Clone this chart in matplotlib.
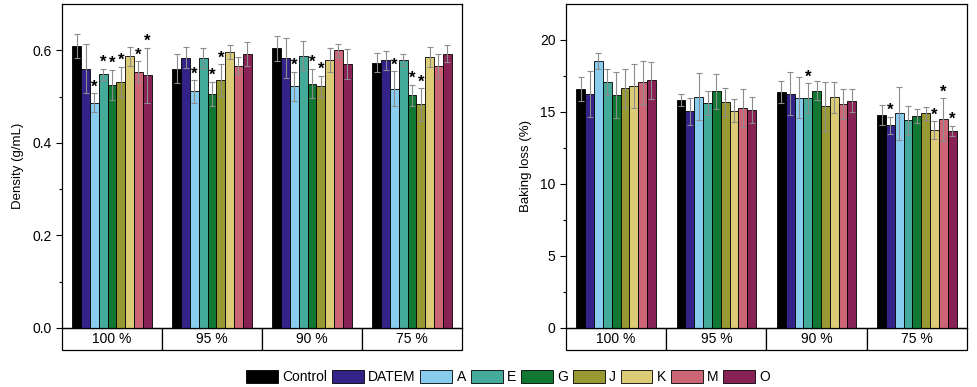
import numpy as np
import matplotlib
matplotlib.use("Agg")
from matplotlib import pyplot as plt

groups = ["100 %", "95 %", "90 %", "75 %"]
samples = ["Control", "DATEM", "A", "E", "G", "J", "K", "M", "O"]
colors = ["#000000", "#332288", "#88CCEE", "#44AA99", "#117733",
          "#999933", "#DDCC77", "#CC6677", "#882255"]

# density (g/mL), one row per sample, columns = groups
density = [
    [0.609, 0.560, 0.604, 0.573],
    [0.560, 0.584, 0.584, 0.578],
    [0.487, 0.511, 0.522, 0.517],
    [0.548, 0.583, 0.588, 0.579],
    [0.525, 0.506, 0.528, 0.503],
    [0.531, 0.536, 0.522, 0.483],
    [0.587, 0.596, 0.578, 0.585],
    [0.554, 0.567, 0.600, 0.566],
    [0.546, 0.591, 0.570, 0.593],
]
density_err = [
    [0.026, 0.031, 0.027, 0.021],
    [0.053, 0.022, 0.043, 0.020],
    [0.020, 0.024, 0.032, 0.038],
    [0.012, 0.022, 0.031, 0.014],
    [0.033, 0.026, 0.032, 0.023],
    [0.033, 0.034, 0.023, 0.035],
    [0.021, 0.015, 0.026, 0.021],
    [0.022, 0.018, 0.014, 0.025],
    [0.059, 0.026, 0.032, 0.019],
]
density_sig = [
    [0, 0, 0, 0],
    [0, 0, 0, 0],
    [1, 1, 1, 1],
    [1, 0, 0, 0],
    [1, 1, 1, 1],
    [1, 1, 1, 1],
    [0, 0, 0, 0],
    [1, 0, 0, 0],
    [1, 0, 0, 0],
]

# baking loss (%)
loss = [
    [16.58, 15.83, 16.39, 14.79],
    [16.23, 15.05, 16.27, 14.07],
    [18.54, 16.06, 15.99, 14.91],
    [17.08, 15.63, 15.95, 14.42],
    [16.18, 16.44, 16.48, 14.72],
    [16.65, 15.69, 15.39, 14.91],
    [16.81, 15.09, 16.02, 13.75],
    [17.06, 15.28, 15.53, 14.49],
    [17.20, 15.16, 15.78, 13.68],
]
loss_err = [
    [0.83, 0.40, 0.74, 0.72],
    [1.60, 0.94, 1.51, 0.60],
    [0.54, 1.63, 1.44, 1.85],
    [0.93, 0.83, 1.04, 1.00],
    [1.58, 1.20, 0.67, 0.51],
    [1.36, 0.98, 1.71, 0.46],
    [1.50, 0.79, 1.08, 0.60],
    [1.48, 1.34, 1.04, 1.48],
    [1.30, 0.90, 0.79, 0.35],
]
loss_sig = [
    [0, 0, 0, 0],
    [0, 0, 0, 1],
    [0, 0, 0, 0],
    [0, 0, 1, 0],
    [0, 0, 0, 0],
    [0, 0, 0, 0],
    [0, 0, 0, 1],
    [0, 0, 0, 1],
    [0, 0, 0, 1],
]

plt.rcParams["font.family"] = ["Liberation Sans", "DejaVu Sans"]
plt.rcParams["font.size"] = 9

fig = plt.figure(figsize=(9.77, 3.87), dpi=100)
ax1 = fig.add_axes([0.0635, 0.1525, 0.4094, 0.8372])
ax2 = fig.add_axes([0.5793, 0.1525, 0.4104, 0.8372])

x = np.arange(len(groups))
w = 0.088


def draw(ax, vals, errs, sig, ylim, ticks, minor, label):
    for i, s in enumerate(samples):
        pos = x + (i - 4) * w
        ax.bar(pos, vals[i], w, yerr=errs[i], color=colors[i],
               edgecolor="black", linewidth=0.6, label=s,
               error_kw=dict(ecolor="0.55", elinewidth=0.8,
                             capsize=2.2, capthick=0.8))
        for j in range(len(groups)):
            if sig[i][j]:
                ax.annotate("*", (pos[j], vals[i][j] + errs[i][j]),
                            xytext=(0, 4.5), textcoords="offset points",
                            ha="center", va="center", fontsize=12,
                            fontweight="bold")
    ax.set_xlim(-0.5, 3.5)
    ax.set_ylim(*ylim)
    ax.set_yticks(ticks)
    ax.set_yticks(minor, minor=True)
    ax.set_xticks([])
    ax.set_ylabel(label, fontsize=9.5, labelpad=6)
    ax.tick_params(axis="y", direction="out", length=4, width=0.8,
                   labelsize=10)
    ax.tick_params(axis="y", which="minor", length=2.5, width=0.8)
    for sp in ax.spines.values():
        sp.set_linewidth(0.9)
    tb = ax.table(cellText=[groups], cellLoc="center",
                  bbox=[0, -0.068, 1, 0.068])
    tb.auto_set_font_size(False)
    tb.set_fontsize(10)
    for c in tb.get_celld().values():
        c.set_linewidth(0.9)


draw(ax1, density, density_err, density_sig, (0, 0.7),
     [0.0, 0.2, 0.4, 0.6], [0.1, 0.3, 0.5],
     "Density (g/mL)")
ax1.set_yticklabels(["0.0", "0.2", "0.4", "0.6"])
draw(ax2, loss, loss_err, loss_sig, (0, 22.5),
     [0, 5, 10, 15, 20], [2.5, 7.5, 12.5, 17.5],
     "Baking loss (%)")

h, l = ax1.get_legend_handles_labels()
fig.legend(h, l, loc="lower center", bbox_to_anchor=(0.52, -0.025),
           ncol=9, frameon=False, handlelength=2.3, handleheight=1.0,
           handletextpad=0.3, columnspacing=0.35, fontsize=10)

fig.savefig("out.png", dpi=100)
